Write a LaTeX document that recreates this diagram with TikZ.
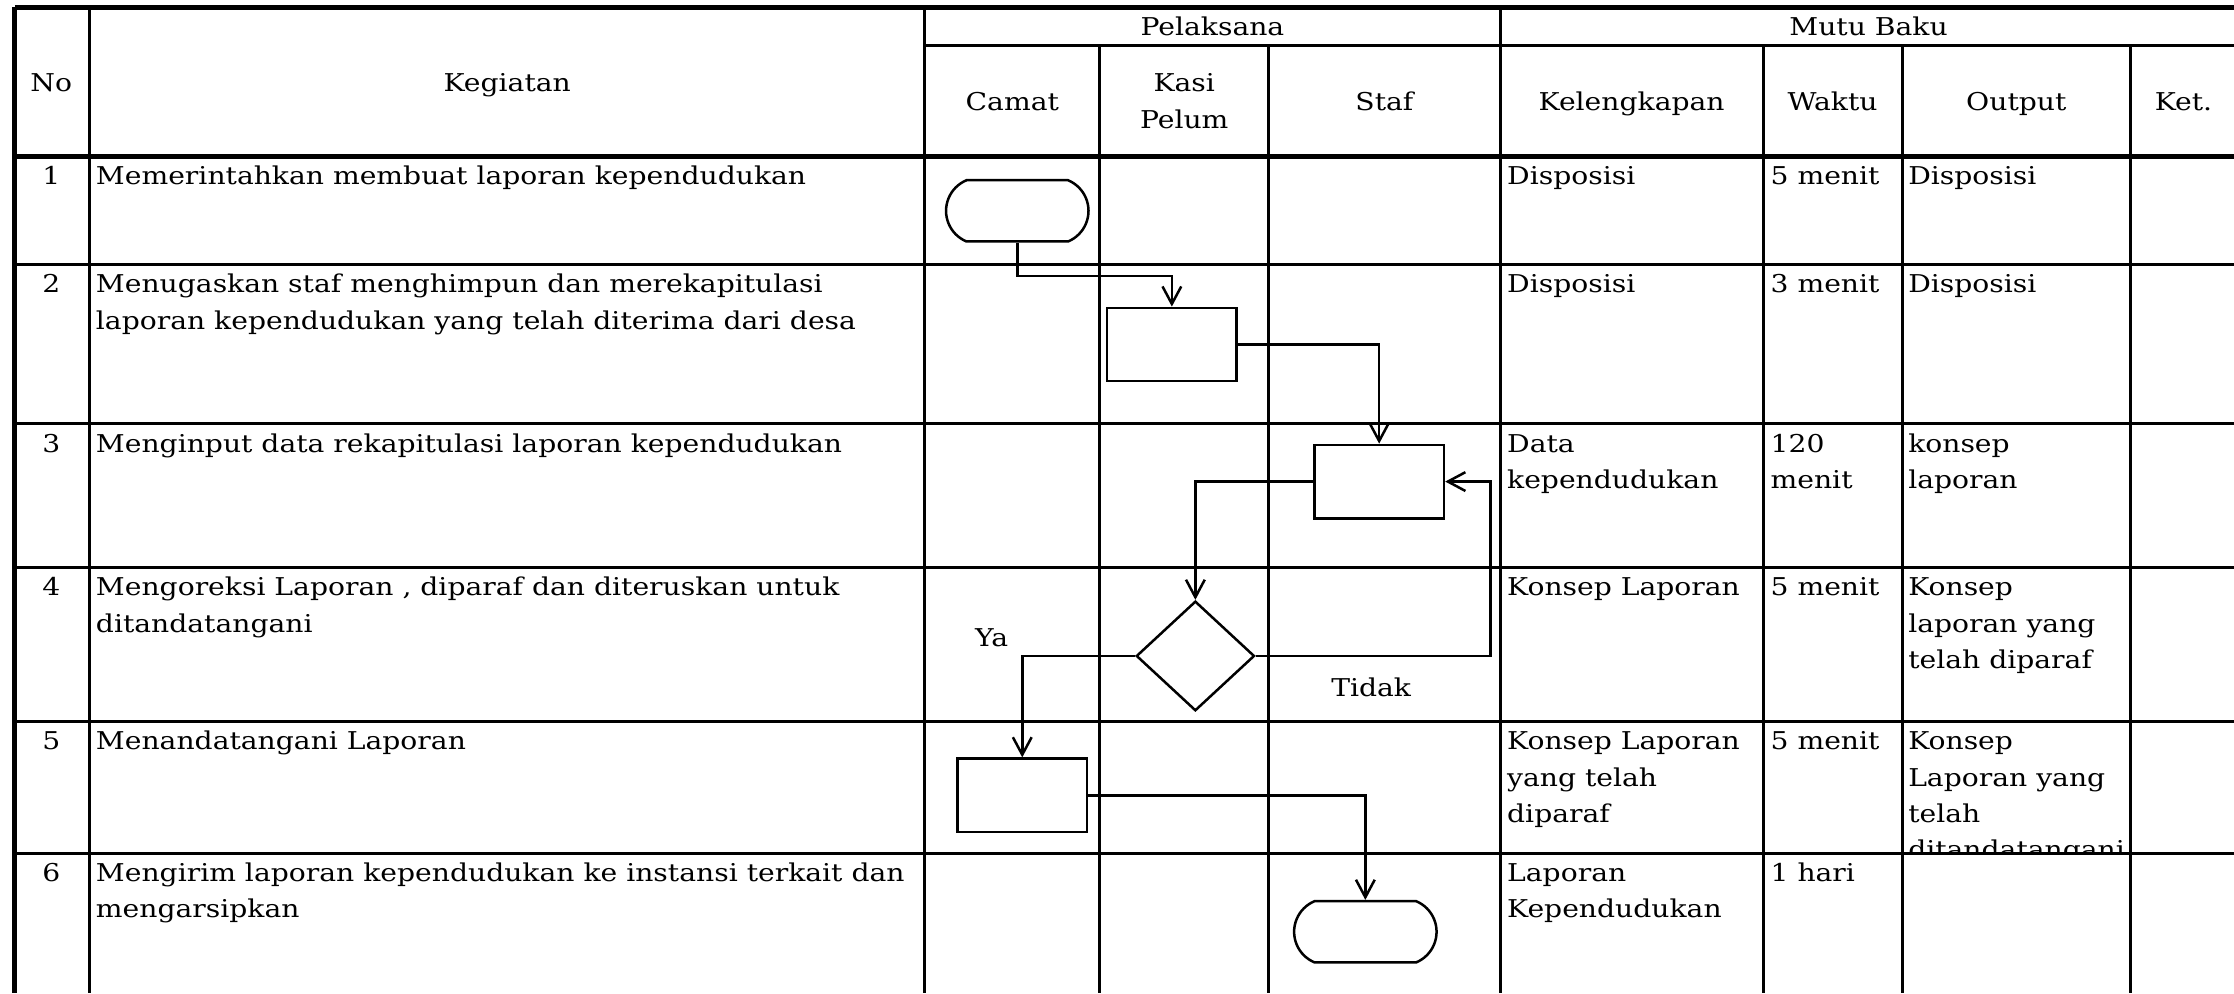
\documentclass[tikz,border=0pt]{standalone}
\usepackage{fontspec}
\setmainfont{DejaVu Serif}[FakeStretch=1.15]
\usetikzlibrary{arrows.meta,shapes.geometric,shapes.misc}
\newcommand{\pb}[1]{\begin{tabular}[t]{@{}l@{}}#1\end{tabular}}
\begin{document}
\begin{tikzpicture}[x=0.02cm,y=-0.02cm,
  grid/.style={line width=1.2pt},
  heavy/.style={line width=2pt},
  shp/.style={draw, line width=1pt, inner sep=0pt, fill=white},
  procbox/.style={shp, rectangle, minimum width=1.82cm, minimum height=1.03cm},
  term/.style={shp, rounded rectangle, rounded rectangle arc length=135, minimum width=2cm, minimum height=0.86cm},
  dec/.style={shp, diamond, minimum width=1.66cm, minimum height=1.54cm},
  arr/.style={line width=1pt, -{Straight Barb[length=7pt,width=7.5pt,line width=1pt]}},
  txt/.style={anchor=base west, inner sep=0pt, font=\fontsize{9.8pt}{14.5pt}\selectfont},
  ctr/.style={anchor=base, inner sep=0pt, align=center, font=\fontsize{9.8pt}{14.5pt}\selectfont},
]
\useasboundingbox (0,0) rectangle (1568,697);

% ---------- header texts ----------
\node[ctr] (hno) at (36,64) {No};
\node[ctr] (hkeg) at (356,64) {Kegiatan};
\node[ctr] (hpel) at (851,25) {Pelaksana};
\node[ctr] (hmutu) at (1311.5,25) {Mutu Baku};
\node[ctr] (hcam) at (710.5,77.5) {Camat};
\node[ctr] (hkasi) at (831.2,64.5) {Kasi};
\node[ctr] (hpelum) at (831.2,90) {Pelum};
\node[ctr] (hstaf) at (971.7,77.5) {Staf};
\node[ctr] (hkel) at (1145.2,77.5) {Kelengkapan};
\node[ctr] (hwak) at (1286.2,77.5) {Waktu};
\node[ctr] (hout) at (1415.2,77.5) {Output};
\node[ctr] (hket) at (1532.5,77.5) {Ket.};

% ---------- row texts ----------
% row 1
\node[ctr] (n1) at (36,129.8) {1};
\node[txt] (k1) at (67,129.8) {\pb{Memerintahkan membuat laporan kependudukan}};
\node[txt] (l1) at (1057.5,129.8) {\pb{Disposisi}};
\node[txt] (w1) at (1242.4,129.8) {\pb{5 menit}};
\node[txt] (o1) at (1339,129.8) {\pb{Disposisi}};
% row 2
\node[ctr] (n2) at (36,205.5) {2};
\node[txt] (k2) at (67,205.5) {\pb{Menugaskan staf menghimpun dan merekapitulasi\\laporan kependudukan yang telah diterima dari desa}};
\node[txt] (l2) at (1057.5,205.5) {\pb{Disposisi}};
\node[txt] (w2) at (1242.4,205.5) {\pb{3 menit}};
\node[txt] (o2) at (1339,205.5) {\pb{Disposisi}};
% row 3
\node[ctr] (n3) at (36,317.3) {3};
\node[txt] (k3) at (67,317.3) {\pb{Menginput data rekapitulasi laporan kependudukan}};
\node[txt] (l3) at (1057.5,317.3) {\pb{Data\\kependudukan}};
\node[txt] (w3) at (1242.4,317.3) {\pb{120\\menit}};
\node[txt] (o3) at (1339,317.3) {\pb{konsep\\laporan}};
% row 4
\node[ctr] (n4) at (36,418.3) {4};
\node[txt] (k4) at (67,418.3) {\pb{Mengoreksi Laporan , diparaf dan diteruskan untuk\\ditandatangani}};
\node[txt] (l4) at (1057.5,418.3) {\pb{Konsep Laporan}};
\node[txt] (w4) at (1242.4,418.3) {\pb{5 menit}};
\node[txt] (o4) at (1339,418.3) {\pb{Konsep\\laporan yang\\telah diparaf}};
% row 5
\node[ctr] (n5) at (36,526.3) {5};
\node[txt] (k5) at (67,526.3) {\pb{Menandatangani Laporan}};
\node[txt] (l5) at (1057.5,526.3) {\pb{Konsep Laporan\\yang telah\\diparaf}};
\node[txt] (w5) at (1242.4,526.3) {\pb{5 menit}};
\begin{scope}
  \clip (1336,507) rectangle (1495,598);
  \node[txt] (o5) at (1339,526.3) {\pb{Konsep\\Laporan yang\\telah\\ditandatangani}};
\end{scope}
% row 6
\node[ctr] (n6) at (36,618.8) {6};
\node[txt] (k6) at (67,618.8) {\pb{Mengirim laporan kependudukan ke instansi terkait dan\\mengarsipkan}};
\node[txt] (l6) at (1057.5,618.8) {\pb{Laporan\\Kependudukan}};
\node[txt] (w6) at (1242.4,618.8) {\pb{1 hari}};

% ---------- grid ----------
\draw[heavy] (10.5,5.6) -- (1572,5.6);
\draw[heavy] (10.5,4.6) -- (10.5,697);
\draw[heavy] (10.5,110) -- (1572,110);
\draw[grid] (649,31.6) -- (1572,31.6);
\foreach \x in {62.5,649,1053}{\draw[grid] (\x,5.6) -- (\x,697);}
\foreach \x in {772,890.5,1237.5,1335,1495.5}{\draw[grid] (\x,31.6) -- (\x,697);}
\foreach \y in {185.7,297.5,398.5,506.5,599}{\draw[grid] (10.5,\y) -- (1572,\y);}

% ---------- flowchart ----------
\node[term] (t1) at (714,148) {};
\node[procbox] (b2) at (822.5,241.8) {};
\node[procbox] (b3) at (968,338) {};
\node[dec] (d4) at (839,460.4) {};
\node[procbox] (b5) at (717.5,558.2) {};
\node[term] (t6) at (958.3,654) {};

\draw[arr] (t1.south) -- ++(0,23.4) -| (b2.north);
\draw[arr] (b2.east) -| (b3.north);
\draw[arr] (b3.west) -| (d4.north);
\draw[arr] (d4.west) -| (b5.north);
\draw[arr] (d4.east) -- ++(164.6,0) |- (b3.east);
\draw[arr] (b5.east) -| (t6.north);

\node[ctr] (ya) at (696,453.5) {Ya};
\node[ctr] (tidak) at (962.4,488.5) {Tidak};
\end{tikzpicture}
\end{document}
